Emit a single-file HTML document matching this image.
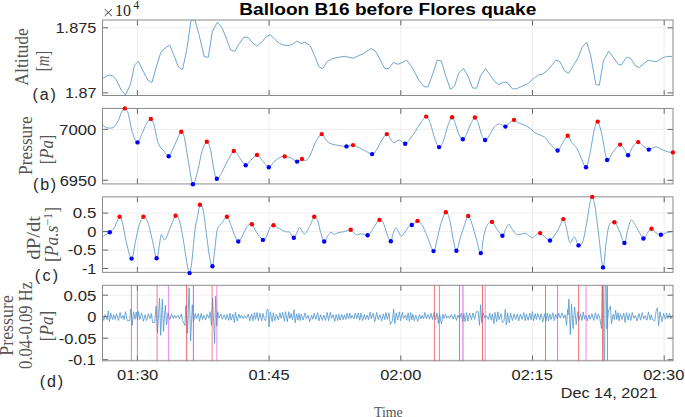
<!DOCTYPE html>
<html><head><meta charset="utf-8"><style>html,body{margin:0;padding:0;background:#fff;width:685px;height:417px;overflow:hidden}svg{display:block}</style></head>
<body>
<svg width="685" height="417" viewBox="0 0 685 417">
<defs>
<clipPath id="cpa"><rect x="102.5" y="20" width="570.5" height="75.5"/></clipPath>
<clipPath id="cpb"><rect x="102.5" y="108.43" width="570.5" height="75.5"/></clipPath>
<clipPath id="cpc"><rect x="102.5" y="196.86" width="570.5" height="75.5"/></clipPath>
<clipPath id="cpd"><rect x="102.5" y="285.29" width="570.5" height="75.5"/></clipPath>
</defs>
<rect width="685" height="417" fill="#fff"/>
<path d="M137.4,20V95.5M269.1,20V95.5M400.8,20V95.5M532.5,20V95.5M664.2,20V95.5M102.5,27.8H673M102.5,92.9H673" stroke="#efefef" stroke-width="1" fill="none"/>
<path d="M137.4,108.43V183.93M269.1,108.43V183.93M400.8,108.43V183.93M532.5,108.43V183.93M664.2,108.43V183.93M102.5,129.4H673M102.5,180.3H673" stroke="#efefef" stroke-width="1" fill="none"/>
<path d="M137.4,196.86V272.36M269.1,196.86V272.36M400.8,196.86V272.36M532.5,196.86V272.36M664.2,196.86V272.36M102.5,213.1H673M102.5,231.6H673M102.5,250.1H673M102.5,268.5H673" stroke="#efefef" stroke-width="1" fill="none"/>
<path d="M137.4,285.29V360.79M269.1,285.29V360.79M400.8,285.29V360.79M532.5,285.29V360.79M664.2,285.29V360.79M102.5,295.2H673M102.5,316.7H673M102.5,338.2H673M102.5,359.7H673" stroke="#efefef" stroke-width="1" fill="none"/>
<polyline clip-path="url(#cpa)" points="102.4,78.5 108.1,75.3 112.2,75.3 116.3,79.8 121.4,90.4 125.5,95 130.5,84.2 134.6,64.9 138.3,61.4 142.8,70.4 147.9,80.2 151.9,82.6 156,68 160.7,52.7 165.2,48 169.7,45.1 173.7,54.7 178.4,66.9 182.5,69.6 186.6,50.6 191.1,20.1 195,20.1 199.2,35.4 204.3,56.8 208.3,57.2 212.4,31.3 217.5,22.1 222.2,28.2 226.7,39.4 230.7,50 234.8,51.3 239.3,43.5 244,37 248,37.4 252.1,42.5 256.8,46 262.3,41.5 266.4,36.4 270.4,34.8 274.5,39 279.6,43.5 283.7,45.1 288.1,45.5 292.2,44.5 296.7,41.1 301.4,43.5 304.8,42.1 310.1,45.5 314.6,55.7 319.1,66.9 322.8,68.6 327.3,61.4 333,58.4 339.1,57.2 344.8,56.3 349.2,57.4 353.3,58.2 358.4,55.7 363.5,53.7 371.1,48.4 376,52 380.2,59.8 384.7,68.6 388.7,68.6 393.4,62.5 398.1,64.3 402.6,62.3 406.7,60.2 411.8,66.9 418.9,80.2 424,86.7 428,86.9 432.7,74.1 437.2,60.2 441.3,61 445.8,76.1 450.4,89.3 454.5,86.3 458.6,73 463.5,68.5 467.4,75 472.6,87.9 476.7,88.3 480.4,76.1 485.5,68.4 490.1,75.1 495,81.8 499.1,84.7 503.2,82.2 507.3,82.6 512.5,88.9 516.6,88.7 521.1,86.7 528.2,83.6 533.3,78.5 538.4,75.1 542.5,74.1 547.6,70.4 555.9,60.2 559.8,61.6 564.7,71 568.7,73.3 573.4,65.5 578.1,57.8 582.2,47.2 586.7,42.1 590.7,55.7 595.8,84.3 599.3,85.3 603.4,60.8 608.7,51.3 613.6,57.8 618.3,64.3 621.3,65.1 626.4,57.4 630.5,58.2 635.6,65.9 639.2,67.6 644.1,63.3 648.2,60.2 652.9,61.3 657,61.5 661.6,58.4 666.5,56.4 672.3,56.4" fill="none" stroke="#6ea5d1" stroke-width="1" stroke-linejoin="round"/>
<path clip-path="url(#cpb)" d="M102.6,124.8 C103.07,125.23 104.22,126.85 105.4,127.4 C106.58,127.95 108.27,128.17 109.7,128.1 C111.13,128.03 112.55,128.27 114,127 C115.45,125.73 117.13,123.02 118.4,120.5 C119.67,117.98 120.53,113.92 121.6,111.9 C122.67,109.88 123.72,108.22 124.8,108.4 C125.88,108.58 126.83,109 128.1,113 C129.37,117 130.83,127.5 132.4,132.4 C133.97,137.3 135.88,142.22 137.5,142.4 C139.12,142.58 140.62,136.6 142.1,133.5 C143.58,130.4 144.95,126.22 146.4,123.8 C147.85,121.38 149.53,118.83 150.8,119 C152.07,119.17 152.75,120.77 154,124.8 C155.25,128.83 156.68,138.87 158.3,143.2 C159.92,147.53 161.97,148.63 163.7,150.8 C165.43,152.97 167.08,156.67 168.7,156.2 C170.32,155.73 171.88,151.07 173.4,148 C174.92,144.93 176.5,140.52 177.8,137.8 C179.1,135.08 180.13,131.88 181.2,131.7 C182.27,131.52 182.97,131.55 184.2,136.7 C185.43,141.85 187.15,154.68 188.6,162.6 C190.05,170.52 191.4,182.75 192.9,184.2 C194.4,185.65 196.1,176.7 197.6,171.3 C199.1,165.9 200.37,156.73 201.9,151.8 C203.43,146.87 205.37,142.05 206.8,141.7 C208.23,141.35 209.33,145.13 210.5,149.7 C211.67,154.27 212.75,164.25 213.8,169.1 C214.85,173.95 215.55,178.08 216.8,178.8 C218.05,179.52 219.65,176.1 221.3,173.4 C222.95,170.7 224.62,166.33 226.7,162.6 C228.78,158.87 231.82,152.07 233.8,151 C235.78,149.93 236.62,153.83 238.6,156.2 C240.58,158.57 243.72,164.48 245.7,165.2 C247.68,165.92 248.62,162.22 250.5,160.5 C252.38,158.78 255.02,154.9 257,154.9 C258.98,154.9 260.43,158.45 262.4,160.5 C264.37,162.55 266.83,167.02 268.8,167.2 C270.77,167.38 272.4,163.22 274.2,161.6 C276,159.98 277.85,158.37 279.6,157.5 C281.35,156.63 282.83,156.33 284.7,156.4 C286.57,156.47 288.73,157.03 290.8,157.9 C292.87,158.77 295.23,161.42 297.1,161.6 C298.97,161.78 300.53,159.18 302,159 C303.47,158.82 304.53,161.15 305.9,160.5 C307.27,159.85 308.58,158.17 310.2,155.1 C311.82,152.03 313.68,145.6 315.6,142.1 C317.52,138.6 320.07,134.63 321.7,134.1 C323.33,133.57 324.07,137.38 325.4,138.9 C326.73,140.42 327.55,142.12 329.7,143.2 C331.85,144.28 335.5,144.87 338.3,145.4 C341.1,145.93 344.05,146.45 346.5,146.4 C348.95,146.35 350.4,144.63 353,145.1 C355.6,145.57 358.92,147.7 362.1,149.2 C365.28,150.7 369.73,153.93 372.1,154.1 C374.47,154.27 374.67,152.55 376.3,150.2 C377.93,147.85 380.15,142.68 381.9,140 C383.65,137.32 385.37,134.28 386.8,134.1 C388.23,133.92 389.33,137.45 390.5,138.9 C391.67,140.35 392.53,142.58 393.8,142.8 C395.07,143.02 396.85,140.5 398.1,140.2 C399.35,139.9 400.12,140.4 401.3,141 C402.48,141.6 403.75,144.15 405.2,143.8 C406.65,143.45 408.3,140.98 410,138.9 C411.7,136.82 413.6,134 415.4,131.3 C417.2,128.6 419,125.15 420.8,122.7 C422.6,120.25 424.58,116.42 426.2,116.6 C427.82,116.78 429.07,120.08 430.5,123.8 C431.93,127.52 433.37,135.02 434.8,138.9 C436.23,142.78 437.67,146.75 439.1,147.1 C440.53,147.45 441.95,144.53 443.4,141 C444.85,137.47 446.35,129.85 447.8,125.9 C449.25,121.95 450.85,117.65 452.1,117.3 C453.35,116.95 454.15,120.92 455.3,123.8 C456.45,126.68 457.75,132.02 459,134.6 C460.25,137.18 461.5,139.48 462.8,139.3 C464.1,139.12 465.47,136.08 466.8,133.5 C468.13,130.92 469.45,126.47 470.8,123.8 C472.15,121.13 473.63,117.5 474.9,117.5 C476.17,117.5 477.28,120.95 478.4,123.8 C479.52,126.65 480.48,131.9 481.6,134.6 C482.72,137.3 483.83,139.83 485.1,140 C486.37,140.17 487.8,137.58 489.2,135.6 C490.6,133.62 492.07,130 493.5,128.1 C494.93,126.2 496.47,124.75 497.8,124.2 C499.13,123.65 500.23,124.4 501.5,124.8 C502.77,125.2 504.03,126.95 505.4,126.6 C506.77,126.25 508.27,123.82 509.7,122.7 C511.13,121.58 512.57,119.9 514,119.9 C515.43,119.9 516.68,121.88 518.3,122.7 C519.92,123.52 521.9,123.98 523.7,124.8 C525.5,125.62 527.3,126.33 529.1,127.6 C530.9,128.87 532.7,131.17 534.5,132.4 C536.3,133.63 538.1,134.1 539.9,135 C541.7,135.9 543.55,136.27 545.3,137.8 C547.05,139.33 548.35,142.08 550.4,144.2 C552.45,146.32 555.68,150.5 557.6,150.5 C559.52,150.5 560.22,146.65 561.9,144.2 C563.58,141.75 566.08,136.15 567.7,135.8 C569.32,135.45 570.05,139.98 571.6,142.1 C573.15,144.22 575.38,145.82 577,148.5 C578.62,151.18 579.8,155.07 581.3,158.2 C582.8,161.33 584.57,168.02 586,167.3 C587.43,166.58 588.53,160.08 589.9,153.9 C591.27,147.72 592.9,135.58 594.2,130.2 C595.5,124.82 596.43,120.88 597.7,121.6 C598.97,122.32 600.23,128.1 601.8,134.5 C603.37,140.9 605.32,156.95 607.1,160 C608.88,163.05 610.33,155.37 612.5,152.8 C614.67,150.23 618.12,145.13 620.1,144.6 C622.08,144.07 623.07,147.83 624.4,149.6 C625.73,151.37 626.67,155.73 628.1,155.2 C629.53,154.67 631.32,148.58 633,146.4 C634.68,144.22 636.4,142.1 638.2,142.1 C640,142.1 642.03,145.15 643.8,146.4 C645.57,147.65 646.82,149.5 648.8,149.6 C650.78,149.7 653.48,147 655.7,147 C657.92,147 660.13,148.8 662.1,149.6 C664.07,150.4 665.7,151.33 667.5,151.8 C669.3,152.27 672,152.3 672.9,152.4" fill="none" stroke="#6ea5d1" stroke-width="1"/>
<path clip-path="url(#cpc)" d="M102.4,237.2 C102.85,236.8 103.87,235.62 105.1,234.8 C106.33,233.98 108.27,233.5 109.8,232.3 C111.33,231.1 112.67,230.18 114.3,227.6 C115.93,225.02 118.25,217.65 119.6,216.8 C120.95,215.95 121.25,218.15 122.4,222.5 C123.55,226.85 124.97,236.88 126.5,242.9 C128.03,248.92 130.08,258.93 131.6,258.6 C133.12,258.27 134.35,246.4 135.6,240.9 C136.85,235.4 137.8,229.62 139.1,225.6 C140.4,221.58 141.93,217.32 143.4,216.8 C144.87,216.28 146.38,218.48 147.9,222.5 C149.42,226.52 151.05,234.95 152.5,240.9 C153.95,246.85 155.5,257.18 156.6,258.2 C157.7,259.22 158.35,250.9 159.1,247 C159.85,243.1 160.43,236.33 161.1,234.8 C161.77,233.27 162.35,237.05 163.1,237.8 C163.85,238.55 164.4,241 165.6,239.3 C166.8,237.6 168.63,231.52 170.3,227.6 C171.97,223.68 174.08,216.98 175.6,215.8 C177.12,214.62 178.08,216.32 179.4,220.5 C180.72,224.68 182.3,234.12 183.5,240.9 C184.7,247.68 185.58,255.83 186.6,261.2 C187.62,266.57 188.68,273.43 189.6,273.1 C190.52,272.77 191.38,264.72 192.1,259.2 C192.82,253.68 193.33,245.53 193.9,240 C194.47,234.47 194.92,229.75 195.5,226 C196.08,222.25 196.65,221.03 197.4,217.5 C198.15,213.97 199.03,206 200,204.8 C200.97,203.6 202.15,205.65 203.2,210.3 C204.25,214.95 205.28,225.23 206.3,232.7 C207.32,240.17 208.28,249.5 209.3,255.1 C210.32,260.7 211.48,267.32 212.4,266.3 C213.32,265.28 213.95,255.27 214.8,249 C215.65,242.73 216.37,232.93 217.5,228.7 C218.63,224.47 220.03,225.58 221.6,223.6 C223.17,221.62 225.38,216.63 226.9,216.8 C228.42,216.97 229.38,221.43 230.7,224.6 C232.02,227.77 233.53,232.98 234.8,235.8 C236.07,238.62 237.12,241.33 238.3,241.5 C239.48,241.67 240.45,239.28 241.9,236.8 C243.35,234.32 245.33,228.7 247,226.6 C248.67,224.5 250.37,223.35 251.9,224.2 C253.43,225.05 254.37,229.08 256.2,231.7 C258.03,234.32 261.2,239.05 262.9,239.9 C264.6,240.75 265.22,238.85 266.4,236.8 C267.58,234.75 268.82,229.53 270,227.6 C271.18,225.67 272.23,225.2 273.5,225.2 C274.77,225.2 275.62,226.52 277.6,227.6 C279.58,228.68 283.42,230.95 285.4,231.7 C287.38,232.45 288.1,231.08 289.5,232.1 C290.9,233.12 292.5,237.87 293.8,237.8 C295.1,237.73 296.3,233.4 297.3,231.7 C298.3,230 298.62,227.25 299.8,227.6 C300.98,227.95 302.78,233.97 304.4,233.8 C306.02,233.63 307.87,229.43 309.5,226.6 C311.13,223.77 312.83,217.82 314.2,216.8 C315.57,215.78 316.62,217.85 317.7,220.5 C318.78,223.15 319.62,229.2 320.7,232.7 C321.78,236.2 323,240.98 324.2,241.5 C325.4,242.02 326.78,237.33 327.9,235.8 C329.02,234.27 329.78,232.53 330.9,232.3 C332.02,232.07 333.42,234.33 334.6,234.4 C335.78,234.47 336.58,233.12 338,232.7 C339.42,232.28 341.57,232.23 343.1,231.9 C344.63,231.57 345.93,231.07 347.2,230.7 C348.47,230.33 349.68,229.43 350.7,229.7 C351.72,229.97 352.35,231.45 353.3,232.3 C354.25,233.15 355.03,234.55 356.4,234.8 C357.77,235.05 359.63,233.73 361.5,233.8 C363.37,233.87 366.08,235.38 367.6,235.2 C369.12,235.02 369.38,234.3 370.6,232.7 C371.82,231.1 373.42,227.73 374.9,225.6 C376.38,223.47 378.12,220.42 379.5,219.9 C380.88,219.38 381.9,220.02 383.2,222.5 C384.5,224.98 386.03,231.67 387.3,234.8 C388.57,237.93 389.78,241.65 390.8,241.3 C391.82,240.95 392.52,234.92 393.4,232.7 C394.28,230.48 395.25,228.17 396.1,228 C396.95,227.83 397.65,230.33 398.5,231.7 C399.35,233.07 400.18,236.03 401.2,236.2 C402.22,236.37 403.35,234.3 404.6,232.7 C405.85,231.1 407.5,227.88 408.7,226.6 C409.9,225.32 410.78,225.68 411.8,225 C412.82,224.32 413.85,223.18 414.8,222.5 C415.75,221.82 416.32,220.55 417.5,220.9 C418.68,221.25 420.32,222.12 421.9,224.6 C423.48,227.08 425.07,231.38 427,235.8 C428.93,240.22 431.8,250.6 433.5,251.1 C435.2,251.6 435.9,243.57 437.2,238.8 C438.5,234.03 439.87,226.93 441.3,222.5 C442.73,218.07 444.45,212.87 445.8,212.2 C447.15,211.53 448.18,214.07 449.4,218.5 C450.62,222.93 451.93,233.43 453.1,238.8 C454.27,244.17 455.15,251.03 456.4,250.7 C457.65,250.37 459.27,240.98 460.6,236.8 C461.93,232.62 463.13,229.07 464.4,225.6 C465.67,222.13 466.9,216.17 468.2,216 C469.5,215.83 470.85,220.8 472.2,224.6 C473.55,228.4 474.87,234.05 476.3,238.8 C477.73,243.55 479.52,253.77 480.8,253.1 C482.08,252.43 482.88,239.55 484,234.8 C485.12,230.05 486.17,226.75 487.5,224.6 C488.83,222.45 490.47,221.22 492,221.9 C493.53,222.58 494.97,226.38 496.7,228.7 C498.43,231.02 500.88,235.8 502.4,235.8 C503.92,235.8 504.72,230.63 505.8,228.7 C506.88,226.77 507.78,224.03 508.9,224.2 C510.02,224.37 511.22,228.03 512.5,229.7 C513.78,231.37 515.17,233.45 516.6,234.2 C518.03,234.95 519.67,234.35 521.1,234.2 C522.53,234.05 523.85,233.03 525.2,233.3 C526.55,233.57 527.95,235.05 529.2,235.8 C530.45,236.55 531.5,237.97 532.7,237.8 C533.9,237.63 535.15,235.58 536.4,234.8 C537.65,234.02 538.85,232.77 540.2,233.1 C541.55,233.43 542.87,235.57 544.5,236.8 C546.13,238.03 548.35,240.75 550,240.5 C551.65,240.25 553.03,237.1 554.4,235.3 C555.77,233.5 556.72,232.4 558.2,229.7 C559.68,227 561.95,219.43 563.3,219.1 C564.65,218.77 565.18,223.78 566.3,227.7 C567.42,231.62 568.63,241.07 570,242.6 C571.37,244.13 573.08,236.43 574.5,236.9 C575.92,237.37 577.08,244.73 578.5,245.4 C579.92,246.07 581.63,244.7 583,240.9 C584.37,237.1 585.57,228.72 586.7,222.6 C587.83,216.48 588.88,208.48 589.8,204.2 C590.72,199.92 591.28,196.22 592.2,196.9 C593.12,197.58 594.18,201.63 595.3,208.3 C596.42,214.97 597.62,227.05 598.9,236.9 C600.18,246.75 601.8,266.38 603,267.4 C604.2,268.42 605.08,249.97 606.1,243 C607.12,236.03 607.72,229.07 609.1,225.6 C610.48,222.13 612.7,221.35 614.4,222.2 C616.1,223.05 617.63,227.23 619.3,230.7 C620.97,234.17 623.03,243 624.4,243 C625.77,243 626.37,234.52 627.5,230.7 C628.63,226.88 629.85,220.95 631.2,220.1 C632.55,219.25 633.57,222.53 635.6,225.6 C637.63,228.67 641.42,237.3 643.4,238.5 C645.38,239.7 646.15,234.43 647.5,232.8 C648.85,231.17 650.08,228.7 651.5,228.7 C652.92,228.7 654.43,231.78 656,232.8 C657.57,233.82 659.2,234.8 660.9,234.8 C662.6,234.8 664.3,233.33 666.2,232.8 C668.1,232.27 671.28,231.8 672.3,231.6" fill="none" stroke="#6ea5d1" stroke-width="1"/>
<polyline clip-path="url(#cpd)" points="102,313.6 103.82,320.48 105.1,314.64 107.2,319.8 108.3,310.8 109.5,321.8 110.7,312.97 112.44,319.5 113.78,314.71 115.09,319.42 116.59,313.83 118.49,320.54 120.09,312.44 121.36,318.51 122.95,315.46 124.08,319.65 125.55,311.63 127.15,320.36 129.6,320.8 130.9,308.8 132.2,325.3 133.6,311.8 134.97,319.28 136.23,312.11 137.49,320.08 138.59,311.5 139.81,319.63 141.62,312.91 143.4,321.26 145.09,314.75 146.62,320.68 148.42,313.56 150,318.71 151.41,313.45 152.63,322.52 154.6,322.8 156.1,306.1 157.5,332.8 159.5,298 160.7,335.3 162.3,299.2 163.5,331.4 165.3,305.4 166.5,324.8 168,312.8 169.89,319.5 171.47,313.96 173.11,318.27 174.56,315.08 175.98,318.12 177.86,315.15 179.5,318.69 181.3,313.9 182.5,320.22 184.9,325.4 186,305.4 187.5,333.1 189.1,287.8 190.6,340.8 192.3,304.8 193.4,322.4 195.23,313.4 196.45,318.84 198.29,313.46 199.54,321.33 201.15,313.4 202.55,319.63 203.84,315.31 205.64,319.83 207.18,314.29 208.88,318.24 210.2,311.8 211.5,325.3 212.6,297.8 214.6,343.4 215.6,296.2 216.7,325.8 217.8,311.8 219.02,318.19 220.89,313.91 222.34,319.32 224.14,314.79 225.71,319.76 227.09,314.3 228.8,320.4 230.03,313.14 231.13,319.96 232.88,314.34 234.31,322.51 235.42,311.98 237.16,321.06 238.84,313.91 240.1,318.28 241.34,315.36 243.2,318.7 244.57,315.51 246.43,318.44 248.32,313.95 249.84,320.87 251.53,313.74 252.97,320.81 254.4,312.65 255.56,319.38 257.07,312.56 258.37,320.58 260.01,313.31 261.62,321.11 262.98,313.4 264.24,318.67 265.6,320.8 266.8,310.8 268,309.1 269,326.8 270.3,311.8 272.14,321.66 273.33,312.88 274.81,320.68 276.44,314.07 278.31,320.16 279.91,312.76 281.16,318.55 282.59,312.24 284.34,321.22 285.53,311.65 287.27,321.81 288.79,311.64 289.93,318.42 291.05,313.54 292.6,319.8 294,309.5 295.2,322.8 296.5,313.8 297.83,320.19 298.96,313.32 300.2,320.59 301.31,314.33 303.16,320.09 304.91,313.08 306.5,318.84 308.06,315.31 309.8,321.61 311.58,315.27 312.96,319.29 314.15,313.19 315.88,319.28 317.67,312.58 318.88,320.91 320.68,314.74 322.24,320.45 323.83,315.1 325.46,320.43 327.22,312.56 328.58,320.75 330.37,312.24 331.6,318.25 333.22,314.68 334.77,321.55 336.18,314.54 337.64,320.52 338.82,314.38 340.03,320.12 341.8,314.39 343.19,319.73 344.46,314.81 345.83,319.46 346.99,313.19 348.56,318.96 349.72,313.16 350.92,318.43 352.13,315.34 353.95,318.86 355.3,312.94 356.89,318.6 358.34,312.77 359.74,320.27 360.92,313.27 362.64,320.64 364.28,314.41 365.43,319.66 367.14,314.99 368.45,319.72 370.15,312.22 371.35,318.81 373.09,313.13 374.77,321.74 376.62,312.42 378.34,319.57 379.95,314.79 381.66,320.88 383.34,313.85 384.74,319.66 385.87,312.41 387.4,319.55 388.94,312.85 390.34,324.52 392.4,320.8 393.6,309.1 394.8,323.5 396.2,312.8 397.67,320.08 399.38,311.88 400.6,320.72 402.36,312.14 403.56,318.48 405.45,315.03 406.69,320.22 408.15,312.75 409.4,321.44 410.67,312.68 411.83,319.85 412.95,314.32 414.3,320.74 415.77,315.25 417.66,321.35 419.5,314.56 420.91,318.97 422.11,315.33 423.61,318.59 424.85,312.35 426.34,318.81 427.98,314.49 429.5,319.17 431.01,313.19 432.54,319.57 434.27,312.31 435.52,319.66 437,312.8 438.3,323.5 439.6,313.8 441.49,324.17 442.77,314.11 444.04,318.56 445.53,314.22 446.67,318.18 448.25,315.92 449.54,318.48 451.34,314.53 453.1,319.07 454.77,314.35 456.42,320.35 457.76,315.06 459.46,318.53 461.3,313.3 462.66,321.52 463.89,313.6 465.06,321.63 466.62,312.56 467.94,321.04 469.61,313.13 471.47,319.71 472.9,312.96 474.67,319.36 476.3,311.66 478.2,311.8 479.5,325.3 480.6,304.8 481.8,322.8 483,312.8 484.74,318.21 486.42,315.55 488.29,319.5 489.71,313.29 491.23,320.34 492.4,313.8 493.95,323.6 495.08,312.5 496.68,321.61 497.84,311.77 499.12,319.77 500.92,313.82 502.39,322.65 504,320.8 505.3,309.4 506.4,324.8 507.6,312.8 509.19,322.95 510.66,313.22 512.42,320.59 514.03,313.99 515.58,319.58 517.27,314.08 518.74,320.87 520.25,314.23 522.01,319.52 523.78,312.62 525.24,320.72 526.37,314.05 528.16,320.24 529.7,313.06 531.2,319.8 532.4,311.4 533.6,320.8 535.21,313.62 536.46,319.47 537.79,313.58 539.69,319.71 541.15,313.81 542.71,322.09 544.52,313.79 545.84,321.03 547.33,313.24 548.49,320.97 549.84,313.88 551.1,319.47 552.86,312.76 554.34,320.64 555.81,314.29 557.34,318.74 558.7,313.17 560.41,318.25 562.1,312.79 563.56,318.27 565.2,314.71 566.5,325.4 567.7,309.3 568.1,314.8 568.9,299 570.3,334.7 571.5,303.9 573.1,328.5 574.6,306.9 576.2,324.7 577.7,311.6 579.16,320.44 580.47,313.73 581.99,320.42 583.25,311.99 584.58,319.25 585.89,315.21 587.33,320.93 588.99,314.75 590.2,319.31 591.92,313.69 593.76,320.51 595.35,312.69 597.05,319.39 598.36,313.87 599.85,318.66 601.5,328.5 602.8,236.8 604.3,396.8 605.6,236.8 606.8,328.8 608.5,310.8 610.4,306.2 611.5,323.8 613.15,314.35 614.36,319.43 615.68,310.38 616.81,319.48 618.04,312.72 619.15,320.8 620.38,313.71 622.11,319.48 623.71,313.05 625.14,322.52 626.37,312.64 628.19,320.14 629.32,313.48 630.91,320.47 632.18,312.55 633.99,318.37 635.34,315.5 637.1,320.93 638.99,313.64 640.63,320.17 642.18,312.55 643.77,319.07 645.28,315.54 646.96,320.22 648.4,311.89 650.1,319.65 651.26,314.77 652.51,319.52 654.8,320.8 656.2,310.8 657.5,307.8 658.6,325.8 660,311.8 661.85,321.77 663.67,313.42 665.45,319.29 666.55,313.08 667.85,318.46 669.59,313.4 670.86,318.86 672.71,314.74" fill="none" stroke="#4f97cf" stroke-width="0.8" stroke-linejoin="round"/>
<path d="M137.4,20v5.4M137.4,95.5v-5.4M269.1,20v5.4M269.1,95.5v-5.4M400.8,20v5.4M400.8,95.5v-5.4M532.5,20v5.4M532.5,95.5v-5.4M664.2,20v5.4M664.2,95.5v-5.4M102.5,27.8h5.5M673,27.8h-5.5M102.5,92.9h5.5M673,92.9h-5.5" stroke="#666666" stroke-width="1" fill="none"/>
<rect x="102.5" y="20" width="570.5" height="75.5" fill="none" stroke="#8a8a8a" stroke-width="1"/>
<path d="M137.4,108.43v5.4M137.4,183.93v-5.4M269.1,108.43v5.4M269.1,183.93v-5.4M400.8,108.43v5.4M400.8,183.93v-5.4M532.5,108.43v5.4M532.5,183.93v-5.4M664.2,108.43v5.4M664.2,183.93v-5.4M102.5,129.4h5.5M673,129.4h-5.5M102.5,180.3h5.5M673,180.3h-5.5" stroke="#666666" stroke-width="1" fill="none"/>
<rect x="102.5" y="108.43" width="570.5" height="75.5" fill="none" stroke="#8a8a8a" stroke-width="1"/>
<path d="M137.4,196.86v5.4M137.4,272.36v-5.4M269.1,196.86v5.4M269.1,272.36v-5.4M400.8,196.86v5.4M400.8,272.36v-5.4M532.5,196.86v5.4M532.5,272.36v-5.4M664.2,196.86v5.4M664.2,272.36v-5.4M102.5,213.1h5.5M673,213.1h-5.5M102.5,231.6h5.5M673,231.6h-5.5M102.5,250.1h5.5M673,250.1h-5.5M102.5,268.5h5.5M673,268.5h-5.5" stroke="#666666" stroke-width="1" fill="none"/>
<rect x="102.5" y="196.86" width="570.5" height="75.5" fill="none" stroke="#8a8a8a" stroke-width="1"/>
<path d="M137.4,285.29v5.4M137.4,360.79v-5.4M269.1,285.29v5.4M269.1,360.79v-5.4M400.8,285.29v5.4M400.8,360.79v-5.4M532.5,285.29v5.4M532.5,360.79v-5.4M664.2,285.29v5.4M664.2,360.79v-5.4M102.5,295.2h5.5M673,295.2h-5.5M102.5,316.7h5.5M673,316.7h-5.5M102.5,338.2h5.5M673,338.2h-5.5M102.5,359.7h5.5M673,359.7h-5.5" stroke="#666666" stroke-width="1" fill="none"/>
<rect x="102.5" y="285.29" width="570.5" height="75.5" fill="none" stroke="#8a8a8a" stroke-width="1"/>
<path d="M131.4,285.29V360.79" stroke="#e83a3a" stroke-opacity="0.65" stroke-width="1"/>
<path d="M137.4,285.29V360.79" stroke="#e040e0" stroke-opacity="0.75" stroke-width="1"/>
<path d="M157.1,285.29V360.79" stroke="#e83a3a" stroke-opacity="0.4" stroke-width="1.6"/>
<path d="M168.5,285.29V360.79" stroke="#e040e0" stroke-opacity="0.55" stroke-width="1.2"/>
<path d="M186.6,285.29V360.79" stroke="#e83a3a" stroke-opacity="0.65" stroke-width="1.3"/>
<path d="M193.4,285.29V360.79" stroke="#e040e0" stroke-opacity="0.9" stroke-width="1"/>
<path d="M212.2,285.29V360.79" stroke="#e83a3a" stroke-opacity="0.4" stroke-width="1.5"/>
<path d="M216.8,285.29V360.79" stroke="#e040e0" stroke-opacity="0.4" stroke-width="1.6"/>
<path d="M434.4,285.29V360.79" stroke="#e83a3a" stroke-opacity="0.7" stroke-width="1"/>
<path d="M439.4,285.29V360.79" stroke="#e040e0" stroke-opacity="0.75" stroke-width="1"/>
<path d="M459.5,285.29V360.79" stroke="#e83a3a" stroke-opacity="0.7" stroke-width="1"/>
<path d="M462.9,285.29V360.79" stroke="#e040e0" stroke-opacity="0.45" stroke-width="2"/>
<path d="M482.5,285.29V360.79" stroke="#e83a3a" stroke-opacity="0.7" stroke-width="1"/>
<path d="M485.3,285.29V360.79" stroke="#e040e0" stroke-opacity="0.45" stroke-width="1.4"/>
<path d="M545.5,285.29V360.79" stroke="#e83a3a" stroke-opacity="0.7" stroke-width="1"/>
<path d="M557.6,285.29V360.79" stroke="#e040e0" stroke-opacity="0.75" stroke-width="1"/>
<path d="M578.6,285.29V360.79" stroke="#e83a3a" stroke-opacity="0.7" stroke-width="1"/>
<path d="M586.1,285.29V360.79" stroke="#e040e0" stroke-opacity="0.4" stroke-width="1.6"/>
<path d="M602.6,285.29V360.79" stroke="#e83a3a" stroke-opacity="0.75" stroke-width="1"/>
<path d="M607.5,285.29V360.79" stroke="#e040e0" stroke-opacity="0.8" stroke-width="1"/>
<circle cx="124.8" cy="108.4" r="2.2" fill="#ff0000"/>
<circle cx="137.5" cy="142.4" r="2.2" fill="#0000ff"/>
<circle cx="150.8" cy="119" r="2.2" fill="#ff0000"/>
<circle cx="168.7" cy="156.2" r="2.2" fill="#0000ff"/>
<circle cx="181.2" cy="131.7" r="2.2" fill="#ff0000"/>
<circle cx="192.9" cy="184.2" r="2.2" fill="#0000ff"/>
<circle cx="206.8" cy="141.7" r="2.2" fill="#ff0000"/>
<circle cx="216.8" cy="178.8" r="2.2" fill="#0000ff"/>
<circle cx="233.8" cy="151" r="2.2" fill="#ff0000"/>
<circle cx="245.7" cy="165.2" r="2.2" fill="#0000ff"/>
<circle cx="257" cy="154.9" r="2.2" fill="#ff0000"/>
<circle cx="268.8" cy="167.2" r="2.2" fill="#0000ff"/>
<circle cx="284.7" cy="156.4" r="2.2" fill="#ff0000"/>
<circle cx="297.1" cy="161.6" r="2.2" fill="#0000ff"/>
<circle cx="302" cy="159" r="2.2" fill="#ff0000"/>
<circle cx="321.7" cy="134.1" r="2.2" fill="#ff0000"/>
<circle cx="346.5" cy="146.4" r="2.2" fill="#0000ff"/>
<circle cx="353" cy="145.1" r="2.2" fill="#ff0000"/>
<circle cx="372.1" cy="154.1" r="2.2" fill="#0000ff"/>
<circle cx="386.8" cy="134.1" r="2.2" fill="#ff0000"/>
<circle cx="405.2" cy="143.8" r="2.2" fill="#0000ff"/>
<circle cx="426.2" cy="116.6" r="2.2" fill="#ff0000"/>
<circle cx="439.1" cy="147.1" r="2.2" fill="#0000ff"/>
<circle cx="452.1" cy="117.3" r="2.2" fill="#ff0000"/>
<circle cx="462.8" cy="139.3" r="2.2" fill="#0000ff"/>
<circle cx="474.9" cy="117.5" r="2.2" fill="#ff0000"/>
<circle cx="485.1" cy="140" r="2.2" fill="#0000ff"/>
<circle cx="505.4" cy="126.6" r="2.2" fill="#0000ff"/>
<circle cx="514" cy="119.9" r="2.2" fill="#ff0000"/>
<circle cx="557.6" cy="150.5" r="2.2" fill="#0000ff"/>
<circle cx="567.7" cy="135.8" r="2.2" fill="#ff0000"/>
<circle cx="586" cy="167.3" r="2.2" fill="#0000ff"/>
<circle cx="597.7" cy="121.6" r="2.2" fill="#ff0000"/>
<circle cx="607.1" cy="160" r="2.2" fill="#0000ff"/>
<circle cx="620.1" cy="144.6" r="2.2" fill="#ff0000"/>
<circle cx="628.1" cy="155.2" r="2.2" fill="#0000ff"/>
<circle cx="638.2" cy="142.1" r="2.2" fill="#ff0000"/>
<circle cx="648.8" cy="149.6" r="2.2" fill="#0000ff"/>
<circle cx="672.9" cy="152.4" r="2.2" fill="#ff0000"/>
<circle cx="109.8" cy="232.3" r="2.2" fill="#0000ff"/>
<circle cx="119.6" cy="216.8" r="2.2" fill="#ff0000"/>
<circle cx="131.6" cy="258.6" r="2.2" fill="#0000ff"/>
<circle cx="143.4" cy="216.8" r="2.2" fill="#ff0000"/>
<circle cx="156.6" cy="258.2" r="2.2" fill="#0000ff"/>
<circle cx="175.6" cy="215.8" r="2.2" fill="#ff0000"/>
<circle cx="189.6" cy="273.1" r="2.2" fill="#0000ff"/>
<circle cx="200" cy="204.8" r="2.2" fill="#ff0000"/>
<circle cx="212.4" cy="266.3" r="2.2" fill="#0000ff"/>
<circle cx="226.9" cy="216.8" r="2.2" fill="#ff0000"/>
<circle cx="238.3" cy="241.5" r="2.2" fill="#0000ff"/>
<circle cx="251.9" cy="224.2" r="2.2" fill="#ff0000"/>
<circle cx="262.9" cy="239.9" r="2.2" fill="#0000ff"/>
<circle cx="273.5" cy="225.2" r="2.2" fill="#ff0000"/>
<circle cx="293.8" cy="237.8" r="2.2" fill="#0000ff"/>
<circle cx="314.2" cy="216.8" r="2.2" fill="#ff0000"/>
<circle cx="324.2" cy="241.5" r="2.2" fill="#0000ff"/>
<circle cx="350.7" cy="229.7" r="2.2" fill="#ff0000"/>
<circle cx="367.6" cy="235.2" r="2.2" fill="#0000ff"/>
<circle cx="379.5" cy="219.9" r="2.2" fill="#ff0000"/>
<circle cx="390.8" cy="241.3" r="2.2" fill="#0000ff"/>
<circle cx="411.8" cy="225" r="2.2" fill="#0000ff"/>
<circle cx="417.5" cy="220.9" r="2.2" fill="#ff0000"/>
<circle cx="433.5" cy="251.1" r="2.2" fill="#0000ff"/>
<circle cx="445.8" cy="212.2" r="2.2" fill="#ff0000"/>
<circle cx="456.4" cy="250.7" r="2.2" fill="#0000ff"/>
<circle cx="468.2" cy="216" r="2.2" fill="#ff0000"/>
<circle cx="480.8" cy="253.1" r="2.2" fill="#0000ff"/>
<circle cx="492" cy="221.9" r="2.2" fill="#ff0000"/>
<circle cx="502.4" cy="235.8" r="2.2" fill="#0000ff"/>
<circle cx="540.2" cy="233.1" r="2.2" fill="#ff0000"/>
<circle cx="550" cy="240.5" r="2.2" fill="#0000ff"/>
<circle cx="563.3" cy="219.1" r="2.2" fill="#ff0000"/>
<circle cx="578.5" cy="245.4" r="2.2" fill="#0000ff"/>
<circle cx="592.2" cy="196.9" r="2.2" fill="#ff0000"/>
<circle cx="603" cy="267.4" r="2.2" fill="#0000ff"/>
<circle cx="614.4" cy="222.2" r="2.2" fill="#ff0000"/>
<circle cx="624.4" cy="243" r="2.2" fill="#0000ff"/>
<circle cx="643.4" cy="238.5" r="2.2" fill="#0000ff"/>
<circle cx="651.5" cy="228.7" r="2.2" fill="#ff0000"/>
<circle cx="660.9" cy="234.8" r="2.2" fill="#0000ff"/>
<g font-family="Liberation Sans, sans-serif" font-size="15.4" fill="#262626">
<text x="55.5" y="33.1" textLength="40.9" lengthAdjust="spacingAndGlyphs">1.875</text>
<text x="65" y="98.2" textLength="31.4" lengthAdjust="spacingAndGlyphs">1.87</text>
<text x="59.1" y="134.7" textLength="37.3" lengthAdjust="spacingAndGlyphs">7000</text>
<text x="59.7" y="185.6" textLength="36.7" lengthAdjust="spacingAndGlyphs">6950</text>
<text x="72.8" y="218.4" textLength="23.6" lengthAdjust="spacingAndGlyphs">0.5</text>
<text x="87.2" y="236.9" textLength="9.2" lengthAdjust="spacingAndGlyphs">0</text>
<text x="67.7" y="255.4" textLength="28.7" lengthAdjust="spacingAndGlyphs">-0.5</text>
<text x="81.9" y="273.8" textLength="14.5" lengthAdjust="spacingAndGlyphs">-1</text>
<text x="63.6" y="300.5" textLength="32.8" lengthAdjust="spacingAndGlyphs">0.05</text>
<text x="87.2" y="322" textLength="9.2" lengthAdjust="spacingAndGlyphs">0</text>
<text x="58.7" y="343.5" textLength="37.7" lengthAdjust="spacingAndGlyphs">-0.05</text>
<text x="68" y="365" textLength="27.7" lengthAdjust="spacingAndGlyphs">-0.1</text>
<text x="117" y="380" textLength="41.2" lengthAdjust="spacingAndGlyphs">01:30</text>
<text x="248.4" y="380" textLength="41.2" lengthAdjust="spacingAndGlyphs">01:45</text>
<text x="380.2" y="380" textLength="41.2" lengthAdjust="spacingAndGlyphs">02:00</text>
<text x="511.6" y="380" textLength="41.2" lengthAdjust="spacingAndGlyphs">02:15</text>
<text x="643.2" y="380" textLength="41.2" lengthAdjust="spacingAndGlyphs">02:30</text>
<text x="560.8" y="398.3" textLength="96.4" lengthAdjust="spacingAndGlyphs">Dec 14, 2021</text>
<text x="32.6" y="100.3" textLength="23.2" lengthAdjust="spacing" font-size="16">(a)</text>
<text x="33" y="190.3" textLength="23.2" lengthAdjust="spacing" font-size="16">(b)</text>
<text x="34.8" y="280.8" textLength="23.2" lengthAdjust="spacing" font-size="16">(c)</text>
<text x="39.8" y="386.9" textLength="23.2" lengthAdjust="spacing" font-size="16">(d)</text>
</g>
<path d="M104.6,9.2L111.9,16M111.9,9.2L104.6,16" stroke="#262626" stroke-width="0.9"/>
<g font-family="Liberation Serif, serif" fill="#262626"><text x="115" y="16.3" font-size="15.8" textLength="16" lengthAdjust="spacingAndGlyphs">10</text><text x="133.2" y="8.9" font-size="12">4</text></g>
<text x="239.3" y="14.9" textLength="297" lengthAdjust="spacingAndGlyphs" font-family="Liberation Sans, sans-serif" font-weight="bold" font-size="16.8" fill="#000">Balloon B16 before Flores quake</text>
<text transform="translate(27.9,56.9) rotate(-90)" text-anchor="middle" font-size="18" font-family="Liberation Serif, serif" fill="#555555" textLength="57.5" lengthAdjust="spacingAndGlyphs">Altitude</text>
<text transform="translate(48.6,61) rotate(-90)" text-anchor="middle" font-size="18" font-family="Liberation Serif, serif" fill="#555555" textLength="20.5" lengthAdjust="spacingAndGlyphs">[<tspan font-style="italic">m</tspan>]</text>
<text transform="translate(32.4,145.6) rotate(-90)" text-anchor="middle" font-size="18" font-family="Liberation Serif, serif" fill="#555555" textLength="58.6" lengthAdjust="spacingAndGlyphs">Pressure</text>
<text transform="translate(53,149.5) rotate(-90)" text-anchor="middle" font-size="18" font-family="Liberation Serif, serif" fill="#555555" textLength="29.5" lengthAdjust="spacingAndGlyphs">[<tspan font-style="italic">Pa</tspan>]</text>
<text transform="translate(39.9,237.8) rotate(-90)" text-anchor="middle" font-size="18" font-family="Liberation Serif, serif" fill="#555555" textLength="43.7" lengthAdjust="spacingAndGlyphs">dP/dt</text>
<text transform="translate(57.6,234.5) rotate(-90)" text-anchor="middle" font-size="18" font-family="Liberation Serif, serif" fill="#555555" textLength="55" lengthAdjust="spacingAndGlyphs">[<tspan font-style="italic">Pa.s</tspan><tspan font-size="12.5" dy="-6">&#8722;1</tspan><tspan dy="6">]</tspan></text>
<text transform="translate(12.9,325.4) rotate(-90)" text-anchor="middle" font-size="18" font-family="Liberation Serif, serif" fill="#555555" textLength="60.8" lengthAdjust="spacingAndGlyphs">Pressure</text>
<text transform="translate(31.6,325.4) rotate(-90)" text-anchor="middle" font-size="18" font-family="Liberation Serif, serif" fill="#555555" textLength="87" lengthAdjust="spacingAndGlyphs">0.04-0.09 Hz</text>
<text transform="translate(52.6,326) rotate(-90)" text-anchor="middle" font-size="18" font-family="Liberation Serif, serif" fill="#555555" textLength="30.3" lengthAdjust="spacingAndGlyphs">[<tspan font-style="italic">Pa</tspan>]</text>
<text x="373.9" y="416.5" textLength="28.9" lengthAdjust="spacingAndGlyphs" font-size="13.8" font-family="Liberation Serif, serif" fill="#555555">Time</text>
</svg>
</body></html>
